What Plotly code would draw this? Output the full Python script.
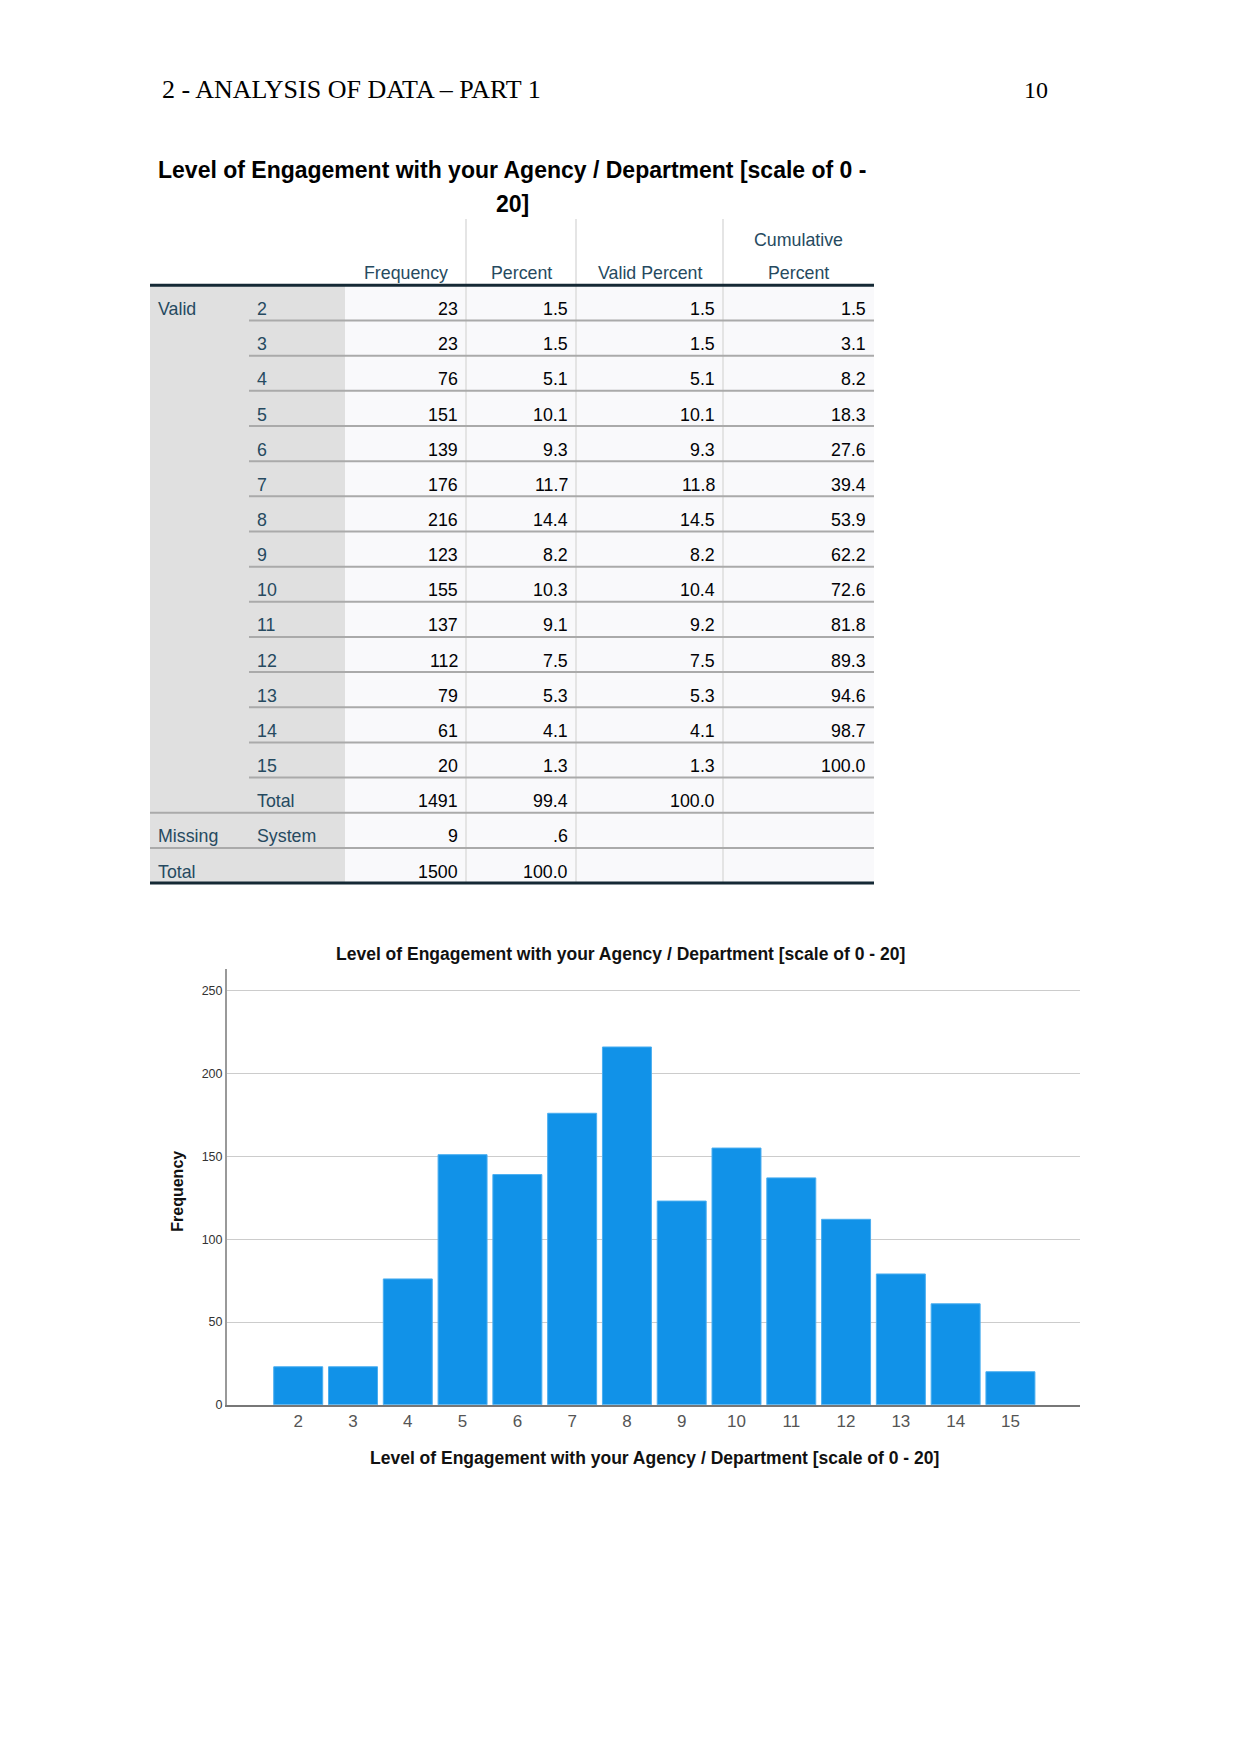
import plotly.graph_objects as go

# ---------------- data ----------------
levels = [2, 3, 4, 5, 6, 7, 8, 9, 10, 11, 12, 13, 14, 15]
frequency = [23, 23, 76, 151, 139, 176, 216, 123, 155, 137, 112, 79, 61, 20]
percent = ["1.5", "1.5", "5.1", "10.1", "9.3", "11.7", "14.4", "8.2", "10.3", "9.1", "7.5", "5.3", "4.1", "1.3"]
valid_percent = ["1.5", "1.5", "5.1", "10.1", "9.3", "11.8", "14.5", "8.2", "10.4", "9.2", "7.5", "5.3", "4.1", "1.3"]
cumulative_percent = ["1.5", "3.1", "8.2", "18.3", "27.6", "39.4", "53.9", "62.2", "72.6", "81.8", "89.3", "94.6", "98.7", "100.0"]

valid_total = ["1491", "99.4", "100.0", ""]
missing_row = ["9", ".6", "", ""]
grand_total = ["1500", "100.0", "", ""]

col_headers = ["Frequency", "Percent", "Valid Percent", "Percent"]
title_text = "Level of Engagement with your Agency / Department [scale of 0 - 20]"
page_header = "2 - ANALYSIS OF DATA \u2013 PART 1"
page_number = "10"
y_ticks = [0, 50, 100, 150, 200, 250]

# ---------------- layout constants (page pixels) ----------------
W, H = 1241, 1754
SANS = "Liberation Sans, Arial, sans-serif"
SERIF = "Liberation Serif, Times New Roman, serif"
LABEL_C = "#264a60"
NUM_C = "#010205"

T_L, T_R = 150, 874
SUB_L = 249
LAB_R = 345
COL_EDGES = [345, 466, 576, 723, 874]
HEAD_TOP = 220
HEAD_BOT = 286.5
ROW_H = 35.3
TEXT_DY = 23.8

fig = go.Figure()

# ---------------- chart ----------------
fig.add_trace(go.Bar(
    x=levels, y=frequency,
    marker=dict(color="#1192e8", line=dict(color="#4aaef0", width=1)),
    xaxis="x", yaxis="y", hoverinfo="skip",
))

plot_l, plot_r = 227, 1080
plot_t, plot_b = 973, 1410.5

shapes = []
ann = []

def px_ann(x, y, text, size, color, bold=False, xanchor="center", family=SANS, angle=0):
    ann.append(dict(
        x=x, y=y, xref="x2", yref="y2", text=("<b>%s</b>" % text) if bold else text,
        showarrow=False, xanchor=xanchor, yanchor="middle", textangle=angle,
        font=dict(family=family, size=size, color=color),
    ))

def px_line(x0, y0, x1, y1, color, width):
    shapes.append(dict(type="line", xref="x2", yref="y2", x0=x0, y0=y0, x1=x1, y1=y1,
                       line=dict(color=color, width=width), layer="below"))

def px_rect(x0, y0, x1, y1, fill):
    shapes.append(dict(type="rect", xref="x2", yref="y2", x0=x0, y0=y0, x1=x1, y1=y1,
                       fillcolor=fill, line=dict(width=0), layer="below"))

# page header
px_ann(160, 90, page_header, 26, "#000000", xanchor="left", family=SERIF)
px_ann(1050, 90, page_number, 24, "#000000", xanchor="right", family=SERIF)

# table title
px_ann(512, 170.5, "Level of Engagement with your Agency / Department [scale of 0 -", 23, "#000000", bold=True)
px_ann(512, 204.5, "20]", 23, "#000000", bold=True)

# table body background
n_rows = len(levels) + 3
body_bot = HEAD_BOT + ROW_H * n_rows
px_rect(T_L, HEAD_BOT, LAB_R, body_bot, "#e0e0e0")
px_rect(LAB_R, HEAD_BOT, T_R, body_bot, "#f9f9fb")

# vertical dividers
for xe in COL_EDGES[1:-1]:
    px_line(xe, HEAD_TOP, xe, body_bot, "#dcdcdc", 1.5)

# header texts
for i, h in enumerate(col_headers):
    cx = (COL_EDGES[i] + COL_EDGES[i + 1]) / 2
    px_ann(cx, 274, h, 17.8, LABEL_C)
px_ann((COL_EDGES[3] + COL_EDGES[4]) / 2, 240.5, "Cumulative", 17.8, LABEL_C)

# rows
rows = []
for i, lv in enumerate(levels):
    rows.append(("Valid" if i == 0 else "", str(lv),
                 [str(frequency[i]), percent[i], valid_percent[i], cumulative_percent[i]]))
rows.append(("", "Total", valid_total))
rows.append(("Missing", "System", missing_row))
rows.append(("Total", "", grand_total))

for r, (lab1, lab2, vals) in enumerate(rows):
    ytop = HEAD_BOT + ROW_H * r
    yc = ytop + TEXT_DY
    if lab1:
        px_ann(156, yc, lab1, 17.8, LABEL_C, xanchor="left")
    if lab2:
        px_ann(255, yc, lab2, 17.8, LABEL_C, xanchor="left")
    for c, v in enumerate(vals):
        if v:
            px_ann(COL_EDGES[c + 1] - 6, yc, v, 17.8, NUM_C, xanchor="right")
    ybot = ytop + ROW_H
    if r < len(levels):
        px_line(SUB_L, ybot, T_R, ybot, "#aaaaaa", 2)
    elif r < n_rows - 1:
        px_line(T_L, ybot, T_R, ybot, "#aaaaaa", 2)

px_line(T_L, HEAD_BOT, T_R, HEAD_BOT, "#152935", 3)
px_line(T_L, body_bot, T_R, body_bot, "#152935", 3)

# chart titles
px_ann(620, 957.5, title_text, 17.5, "#111111", bold=True)
px_ann(654.5, 1464, title_text, 17.5, "#111111", bold=True)
px_ann(178, 1196.5, "Frequency", 16, "#111111", bold=True, angle=-90)

fig.update_layout(
    width=W, height=H,
    margin=dict(l=0, r=0, t=0, b=0),
    paper_bgcolor="white", plot_bgcolor="rgba(0,0,0,0)",
    showlegend=False,
    bargap=0.106,
    xaxis=dict(
        domain=[plot_l / W, plot_r / W], range=[0.7, 16.27],
        tickvals=levels, ticktext=[str(v) for v in levels],
        tickfont=dict(family=SANS, size=17, color="#555555"),
        showgrid=False, zeroline=False,
        showline=True, linecolor="#777777", linewidth=1.5,
        ticks="", anchor="y", fixedrange=True,
    ),
    yaxis=dict(
        domain=[(H - plot_b) / H, (H - plot_t) / H], range=[0, 263],
        tickvals=y_ticks,
        tickfont=dict(family=SANS, size=12.5, color="#333333"),
        showgrid=True, gridcolor="#cccccc", gridwidth=1,
        zeroline=False, showline=True, linecolor="#999999", linewidth=2,
        ticks="", anchor="x", fixedrange=True,
    ),
    xaxis2=dict(domain=[0, 1], range=[0, W], visible=False, anchor="y2", fixedrange=True),
    yaxis2=dict(domain=[0, 1], range=[H, 0], visible=False, anchor="x2", fixedrange=True),
    shapes=shapes,
    annotations=ann,
)

fig.write_html("out.html", config=dict(displayModeBar=False))
